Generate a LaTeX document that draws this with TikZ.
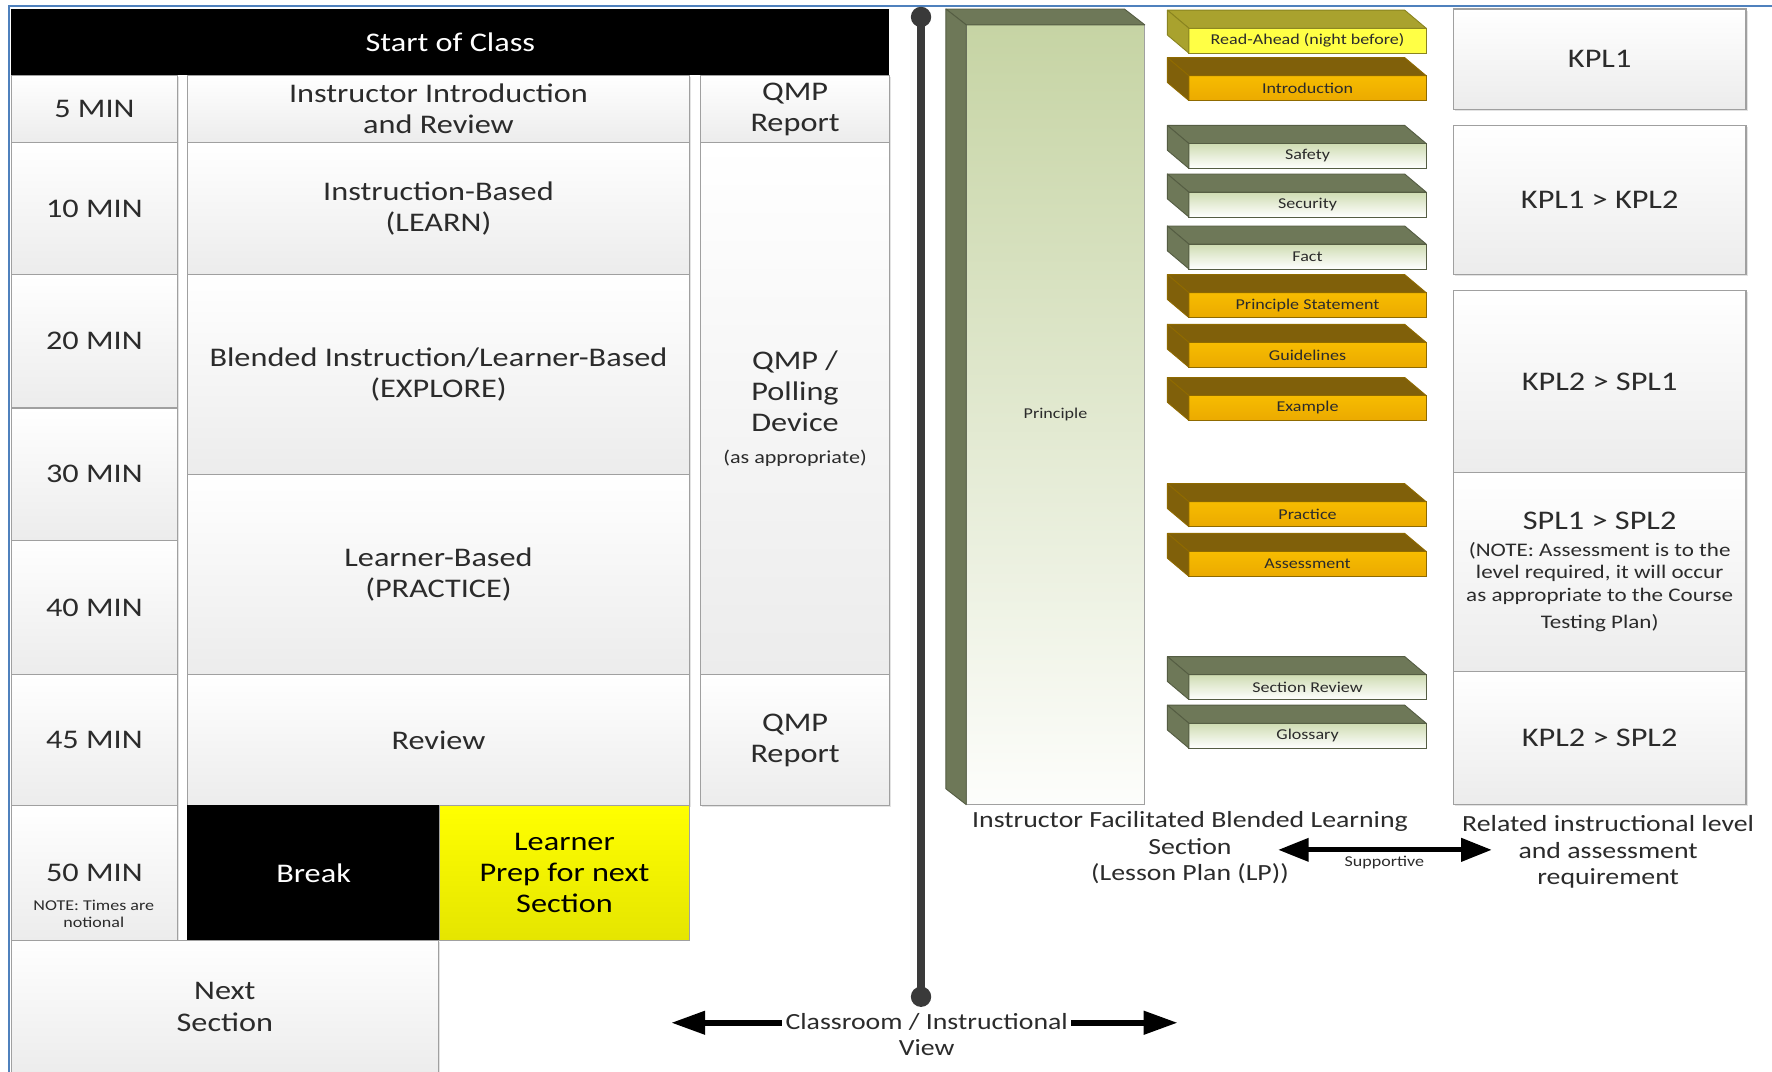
\documentclass[tikz,border=0pt]{standalone}
\usepackage{fontspec}
\setmainfont{Carlito}[FakeStretch=1.2]
\usetikzlibrary{arrows.meta,shadows}

\definecolor{frameblue}{HTML}{4F81BD}
\definecolor{cellline}{HTML}{A0A0A0}
\definecolor{cellbot}{HTML}{ECECEC}
\definecolor{ink}{HTML}{2B2B2B}
\definecolor{barcol}{HTML}{3A3A3A}
\definecolor{olivedark}{HTML}{6E7858}
\definecolor{oliveedge}{HTML}{555D43}
\definecolor{olivelight}{HTML}{C6D4A4}
\definecolor{greentop}{HTML}{CFDCB2}
\definecolor{goldtop}{HTML}{F7BC00}
\definecolor{goldbot}{HTML}{EBAA00}
\definecolor{goldside}{HTML}{80600A}
\definecolor{goldedge}{HTML}{8F6A00}
\definecolor{yelfront}{HTML}{FFFF45}
\definecolor{yelside}{HTML}{A9A22E}
\definecolor{yeledge}{HTML}{8A8420}
\definecolor{prepbot}{HTML}{E5E500}

\newcommand{\mainsz}{\fontsize{23.8}{27.5}\selectfont}
\newcommand{\tinysz}{\fontsize{13.3}{15}\selectfont}
\newcommand{\apprsz}{\fontsize{16.3}{19}\selectfont}
\newcommand{\notesz}{\fontsize{17}{20}\selectfont}
\newcommand{\capsz}{\fontsize{20.5}{23.5}\selectfont}

% rectangle node given by its top-left and bottom-right corners
\newcommand{\boxat}[6]{\node[#1,anchor=north west,minimum width={#4-(#2)},minimum height={#5-(#3)}] (#6) at (#2,#3)}

% small bevelled slab: name, top y, front style, side colour, edge colour, text
\newcommand{\slab}[6]{%
  \node[slabfront,#3,draw=#5,anchor=north west] (#1) at (1052,#2) {#6};
  \filldraw[fill=#4,draw=#5,line width=0.8,line join=round]
    (#1.north west) -- (#1.north east) -- ++(-19,-16)
    -- ([shift={(-19,-16)}]#1.north west) -- cycle;
  \filldraw[fill=#4,draw=#5,line width=0.8,line join=round]
    (#1.north west) -- ([shift={(-19,-16)}]#1.north west)
    -- ([shift={(-19,-16)}]#1.south west) -- (#1.south west) -- cycle;
}

\begin{document}
\begin{tikzpicture}[x=1pt,y=-1pt,
  cellshadow/.style={drop shadow={shadow xshift=1.5pt,shadow yshift=-1.5pt,fill=black!60,opacity=0.18}},
  cell/.style={draw=cellline,line width=1.2,top color=white,bottom color=cellbot,
    inner sep=0,outer sep=0,text=ink,align=center,font=\mainsz,cellshadow},
  headbox/.style={fill=black,inner sep=0,outer sep=0,text=white,font=\mainsz},
  breakbox/.style={fill=black,draw=black,line width=1.2,inner sep=0,outer sep=0,text=white,font=\mainsz},
  prepbox/.style={draw=cellline,line width=1.2,top color=yellow,bottom color=prepbot,
    inner sep=0,outer sep=0,text=black,align=center,font=\mainsz},
  slabfront/.style={minimum width=210,minimum height=22,inner sep=0,outer sep=0,
    line width=0.8,font=\tinysz,text=ink},
  greenfront/.style={top color=greentop,bottom color=white},
  goldfront/.style={top color=goldtop,bottom color=goldbot},
  yelfrontst/.style={fill=yelfront},
  capstyle/.style={font=\capsz,text=ink,align=center,inner sep=3},
  bigarrow/.style={line width=5,-{Triangle[length=30pt,width=20pt]}},
  dblarrow/.style={line width=4.5,{Triangle[length=27pt,width=20pt]}-{Triangle[length=27pt,width=20pt]}}
]
\path[use as bounding box,fill=white] (0,0) rectangle (1568,948);
\clip (0,0) rectangle (1568,948);

% frame
\draw[frameblue,line width=2] (8,960) -- (8,5) -- (1568,5);

% ---------- class timetable ----------
\boxat{headbox}{10}{8}{787}{66}{hdr}{Start of Class};

\boxat{cell}{10}{67}{157}{126}{m5}{5 MIN};
\boxat{cell}{10}{126}{157}{243}{m10}{10 MIN};
\boxat{cell}{10}{243}{157}{361}{m20}{20 MIN};
\boxat{cell}{10}{361}{157}{478}{m30}{30 MIN};
\boxat{cell}{10}{478}{157}{597}{m40}{40 MIN};
\boxat{cell}{10}{597}{157}{713}{m45}{45 MIN};
\boxat{cell}{10}{713}{157}{832}{m50}{50 MIN};
\node[font=\tinysz,text=ink,align=center,inner sep=0] (notional) at (83,809) {NOTE: Times are\\notional};

\boxat{cell}{166}{67}{610}{126}{intro}{Instructor Introduction\\and Review};
\boxat{cell}{166}{126}{610}{243}{learn}{Instruction-Based\\(LEARN)};
\boxat{cell}{166}{243}{610}{420}{explore}{Blended Instruction/Learner-Based\\(EXPLORE)};
\boxat{cell}{166}{420}{610}{597}{practice}{Learner-Based\\(PRACTICE)};
\boxat{cell}{166}{597}{610}{713}{review}{Review};
\boxat{breakbox}{166}{713}{389}{832}{brk}{Break};
\boxat{prepbox}{389}{713}{610}{832}{prep}{Learner\\Prep for next\\Section};
\boxat{cell}{10}{832}{388}{950}{next}{Next\\Section};

\boxat{cell}{620}{67}{787}{126}{qmpa}{QMP\\Report};
\boxat{cell}{620}{126}{787}{597}{poll}{QMP /\\Polling\\Device\\[1pt]{\apprsz (as appropriate)}};
\boxat{cell}{620}{597}{787}{713}{qmpb}{QMP\\Report};

% ---------- divider ----------
\coordinate (bartop) at (815,15);
\coordinate (barbot) at (815,882);
\draw[barcol,line width=7] (bartop) -- (barbot);
\fill[barcol] (bartop) circle[radius=9];
\fill[barcol] (barbot) circle[radius=9];

\node[capstyle] (cv) at (820,904) {Classroom / Instructional};
\node[capstyle] (vw) at (820,927) {View};
\coordinate (cvl) at (594,905);
\coordinate (cvr) at (1042,905);
\draw[bigarrow] (cv.west |- cvl) -- (cvl);
\draw[bigarrow] (cv.east |- cvr) -- (cvr);

% ---------- lesson plan column ----------
\node[draw=cellline,line width=0.8,top color=olivelight,bottom color=white!96!olivelight,
  minimum width=158,minimum height=690,anchor=north west,inner sep=0,outer sep=0,
  font=\tinysz,text=ink] (pr) at (855,22) {Principle};
\filldraw[fill=olivedark,draw=oliveedge,line width=0.8,line join=round]
  (pr.north west) -- (pr.north east) -- ++(-18,-14) -- ([shift={(-18,-14)}]pr.north west) -- cycle;
\filldraw[fill=olivedark,draw=oliveedge,line width=0.8,line join=round]
  (pr.north west) -- ([shift={(-18,-14)}]pr.north west) -- ([shift={(-18,-14)}]pr.south west) -- (pr.south west) -- cycle;

\slab{ra}{25}{yelfrontst}{yelside}{yeledge}{Read-Ahead (night before)}
\slab{in}{67}{goldfront}{goldside}{goldedge}{Introduction}
\slab{sa}{127}{greenfront}{olivedark}{oliveedge}{Safety}
\slab{se}{170}{greenfront}{olivedark}{oliveedge}{Security}
\slab{fa}{216}{greenfront}{olivedark}{oliveedge}{Fact}
\slab{ps}{259}{goldfront}{goldside}{goldedge}{Principle Statement}
\slab{gu}{303}{goldfront}{goldside}{goldedge}{Guidelines}
\slab{ex}{350}{goldfront}{goldside}{goldedge}{Example}
\slab{pc}{444}{goldfront}{goldside}{goldedge}{Practice}
\slab{as}{488}{goldfront}{goldside}{goldedge}{Assessment}
\slab{sr}{597}{greenfront}{olivedark}{oliveedge}{Section Review}
\slab{gl}{640}{greenfront}{olivedark}{oliveedge}{Glossary}

% ---------- performance levels ----------
\boxat{cell}{1286}{8}{1545}{97}{k1}{KPL1};
\boxat{cell}{1286}{111}{1545}{243}{k2}{KPL1 > KPL2};
\boxat{cell}{1286}{257}{1545}{418}{k3}{KPL2 > SPL1};
\boxat{cell,font=\notesz}{1286}{418}{1545}{594}{k4}{{\mainsz SPL1 > SPL2}\\[4pt](NOTE: Assessment is to the\\level required, it will occur\\as appropriate to the Course\\[4pt]Testing Plan)};
\boxat{cell}{1286}{594}{1545}{712}{k5}{KPL2 > SPL2};

% ---------- captions ----------
\node[capstyle] (lp) at (1053,750) {Instructor Facilitated Blended Learning\\Section\\(Lesson Plan (LP))};
\node[capstyle] (rel) at (1423,754) {Related instructional level\\and assessment\\requirement};
\coordinate (supl) at (1131,752);
\coordinate (supr) at (1320,752);
\draw[dblarrow] (supl) -- (supr);
\node[font=\tinysz,text=ink,inner sep=0] (sup) at (1225,763) {Supportive};
\end{tikzpicture}
\end{document}
